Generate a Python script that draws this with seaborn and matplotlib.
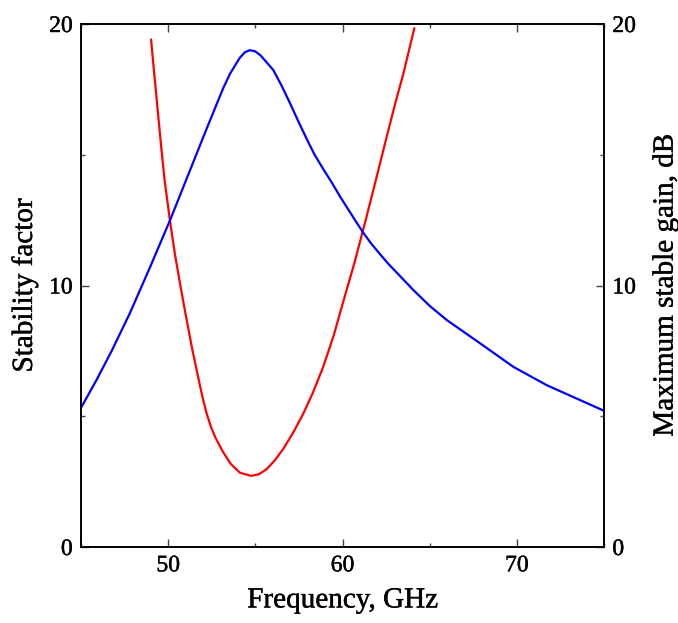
import matplotlib
matplotlib.use("Agg")
import matplotlib.pyplot as plt
import matplotlib.patheffects as pe
from matplotlib.ticker import MultipleLocator
import seaborn as sns
import pandas as pd

# Stability factor K versus frequency (left axis)
k_freq = [49.02, 49.2, 49.4, 49.6, 49.8, 50.11, 50.4, 50.7, 51.0, 51.4,
          51.8, 52.0, 52.21, 52.45, 52.7, 52.95, 53.16, 53.6, 54.12, 54.75,
          55.2, 55.65, 56.1, 56.6, 57.15, 57.75, 58.3, 58.9, 59.5, 60.05,
          60.7, 61.29, 61.9, 62.54, 63.0, 63.49, 64.12]
k_val = [19.41, 18.1, 16.7, 15.3, 14.0, 12.44, 11.15, 10.0, 8.9, 7.5,
         6.25, 5.65, 5.1, 4.6, 4.2, 3.88, 3.62, 3.17, 2.84, 2.72,
         2.78, 2.98, 3.3, 3.75, 4.35, 5.1, 5.9, 6.9, 8.1, 9.4,
         10.9, 12.4, 14.0, 15.7, 16.9, 18.1, 19.84]

# Maximum stable gain versus frequency (right axis)
msg_freq = [45.0, 45.9, 46.76, 47.81, 48.96, 50.11, 51.25, 52.21, 53.16, 53.55,
            54.1, 54.4, 54.69, 55.0, 55.3, 56.03, 56.5, 56.99, 57.45, 57.95,
            58.4, 58.9, 59.4, 59.86, 60.72, 61.19, 61.65, 62.15, 62.6, 63.1,
            64.06, 65.0, 65.98, 67.89, 69.8, 71.71, 73.62, 75.0]
msg_val = [5.32, 6.4, 7.5, 8.95, 10.7, 12.5, 14.4, 16.0, 17.55, 18.1,
           18.7, 18.92, 19.0, 18.95, 18.8, 18.24, 17.65, 16.97, 16.3, 15.6,
           15.0, 14.45, 13.92, 13.4, 12.5, 12.02, 11.6, 11.2, 10.85, 10.5,
           9.83, 9.22, 8.68, 7.79, 6.89, 6.19, 5.62, 5.21]

x_ticks = [50, 60, 70]
y_ticks = [0, 10, 20]

sns.set_theme(style="ticks")
plt.rcParams["font.family"] = ["Liberation Serif", "DejaVu Serif"]
plt.rcParams["text.color"] = "black"
plt.rcParams["axes.labelcolor"] = "black"
plt.rcParams["xtick.labelcolor"] = "black"
plt.rcParams["ytick.labelcolor"] = "black"

df_k = pd.DataFrame({"f": k_freq, "v": k_val})
df_m = pd.DataFrame({"f": msg_freq, "v": msg_val})

fig = plt.figure(figsize=(6.78, 6.23), dpi=100)
ax = fig.add_axes([81 / 678, 1 - 547 / 623, 523 / 678, 523 / 623])
ax2 = ax.twinx()

sns.lineplot(data=df_k, x="f", y="v", ax=ax, color="#ff0000", lw=1.6, sort=False)
sns.lineplot(data=df_m, x="f", y="v", ax=ax2, color="#0000ff", lw=1.6, sort=False)

for a in (ax, ax2):
    a.set_xlim(45, 75)
    a.set_ylim(0, 20)
    a.set_yticks(y_ticks)
    a.yaxis.set_minor_locator(MultipleLocator(5))
    for s in a.spines.values():
        s.set_color("black")
        s.set_linewidth(1.2)

ax.set_xticks(x_ticks)
ax.xaxis.set_minor_locator(MultipleLocator(5))

ax.tick_params(axis="both", which="major", direction="in", length=6, width=1.0,
               color="#444444", labelsize=17, top=True, pad=6)
ax.tick_params(axis="both", which="minor", direction="in", length=3.2, width=1.0,
               color="#444444", top=True)
ax.tick_params(axis="y", right=False)
ax2.tick_params(axis="y", which="major", direction="in", length=6, width=1.0,
                color="#444444", labelsize=17, pad=6)
ax2.tick_params(axis="y", which="minor", direction="in", length=3.2, width=1.0,
                color="#444444")

ax.set_xlabel("Frequency, GHz", fontsize=21, labelpad=8)
ax.set_ylabel("Stability factor", fontsize=21, labelpad=8)
ax2.set_ylabel("Maximum stable gain, dB", fontsize=21, labelpad=12)

# Slightly heavier strokes on all text
heavy = [pe.withStroke(linewidth=0.3, foreground="black")]
texts = [ax.xaxis.label, ax.yaxis.label, ax2.yaxis.label]
texts += ax.get_xticklabels() + ax.get_yticklabels() + ax2.get_yticklabels()
for t in texts:
    t.set_path_effects(heavy)

fig.savefig("out.png", dpi=100)
